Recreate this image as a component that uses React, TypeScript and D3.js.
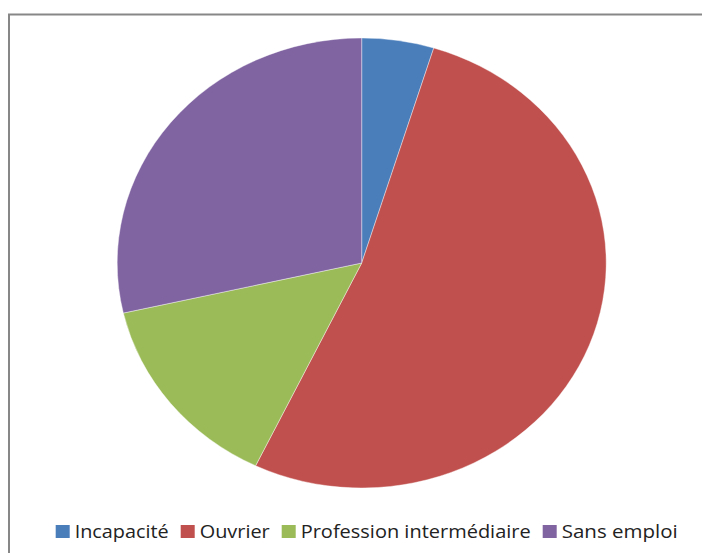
import React from "react";
import * as d3 from "d3";

const categories = ["Incapacité", "Ouvrier", "Profession intermédiaire", "Sans emploi"];
const values = [1, 11, 3, 6];
const colors = ["#4A7EBB", "#C0504D", "#9BBB59", "#8064A2"];
const legendTextWidths = [94, 70, 230, 116];

export default function App() {
  const W = 702, H = 553;
  const cx = 361.7, cy = 263, rx = 244.5, ry = 225;
  const pie = d3.pie<number>().sort(null).value((d) => d);
  const arcs = pie(values);
  const arc = d3.arc<d3.PieArcDatum<number>>().innerRadius(0).outerRadius(ry);

  // legend layout
  const sq = 14, gapSqText = 5, gapItems = 12;
  let x = 55.7;
  const legendItems = categories.map((c, i) => {
    const item = { x, tx: x + sq + gapSqText, w: legendTextWidths[i] };
    x = item.tx + item.w + gapItems;
    return item;
  });

  return (
    <svg width={W} height={H} style={{ position: "absolute", left: 0, top: 0, background: "#fff" }}>
      <rect x={0} y={0} width={W} height={H} fill="#fff" />
      <rect x={9} y={14.5} width={900} height={700} fill="none" stroke="#878787" strokeWidth={2} />
      <g transform={`translate(${cx},${cy}) scale(${rx / ry},1)`}>
        {arcs.map((a, i) => (
          <path key={i} d={arc(a) || ""} fill={colors[i]} stroke="#fff" strokeWidth={0.4} vectorEffect="non-scaling-stroke" />
        ))}
      </g>
      <g>
        {legendItems.map((it, i) => (
          <g key={i}>
            <rect x={it.x} y={525} width={sq} height={13} fill={colors[i]} />
            <text
              x={it.tx}
              y={537.7}
              fontFamily="Open Sans, sans-serif"
              fontSize={18}
              fill="#222"
              textLength={it.w}
              lengthAdjust="spacingAndGlyphs"
            >
              {categories[i]}
            </text>
          </g>
        ))}
      </g>
    </svg>
  );
}
